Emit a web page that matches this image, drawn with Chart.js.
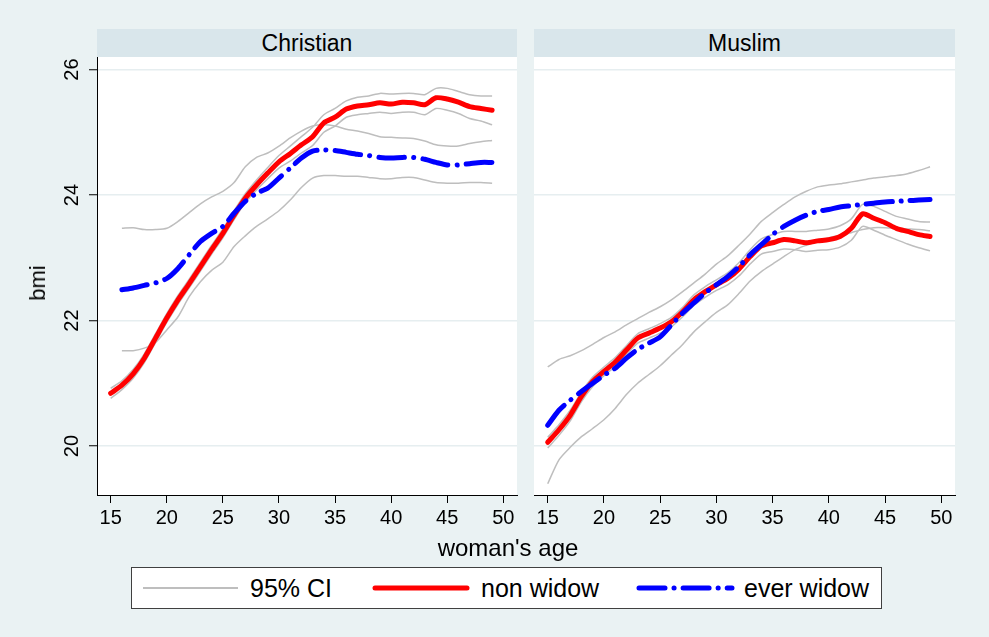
<!DOCTYPE html>
<html>
<head>
<meta charset="utf-8">
<title>bmi by woman's age</title>
<script src="https://cdn.jsdelivr.net/npm/chart.js"></script>
<style>
  body { margin: 0; background: #eaf2f3; font-family: "Liberation Sans", Arial, sans-serif; color: #000; }
  #page { position: relative; width: 989px; height: 637px; overflow: hidden; }
  .strip { position: absolute; top: 29px; height: 28px; line-height: 28px; background: #d9e6eb; text-align: center; font-size: 23px; }
  canvas { position: absolute; top: 57px; }
  .title { position: absolute; white-space: nowrap; transform: translate(-50%, -50%); }
  #legend { position: absolute; left: 131px; top: 567px; width: 749px; height: 40px; background: #fff; border: 1px solid #404040; }
  #legend svg { position: absolute; left: 0; top: 0; }
  #legend span { position: absolute; top: 6px; font-size: 25px; line-height: 28px; }
</style>
</head>
<body>
<div id="page">
  <div class="strip" style="left:97px;width:420px;" id="head0"></div>
  <div class="strip" style="left:534px;width:421px;" id="head1"></div>
  <canvas id="chart0" width="520" height="480" style="left:0px;"></canvas>
  <canvas id="chart1" width="440" height="480" style="left:520px;"></canvas>
  <div class="title" style="left:38px;top:283px;font-size:22px;transform:translate(-50%,-50%) rotate(-90deg);">bmi</div>
  <div class="title" style="left:508px;top:548px;font-size:24px;">woman's age</div>
  <div id="legend">
    <svg width="749" height="40">
      <line x1="11" y1="20" x2="106" y2="20" stroke="#bebebe" stroke-width="2"/>
      <line x1="243" y1="20" x2="335" y2="20" stroke="#ff0000" stroke-width="5" stroke-linecap="round"/>
      <line x1="507" y1="20" x2="600" y2="20" stroke="#0000ff" stroke-width="5" stroke-linecap="round" stroke-dasharray="26 9 0.1 9"/>
    </svg>
    <span style="left:118px;" id="lg0"></span>
    <span style="left:349px;" id="lg1"></span>
    <span style="left:612px;" id="lg2"></span>
  </div>
</div>

<script>
  // data, one value per year of age
  const ages = [15,16,17,18,19,20,21,22,23,24,25,26,27,28,29,30,31,32,33,34,35,36,37,38,39,40,41,42,43,44,45,46,47,48,49];
  const xTicks = [15, 20, 25, 30, 35, 40, 45, 50];
  const yTicks = [20, 22, 24, 26];
  const panelNames = ['Christian', 'Muslim'];
  const legendLabels = ['95% CI', 'non widow', 'ever widow'];

  // Christian
  const nonWidowC = [20.84,20.97,21.15,21.40,21.72,22.04,22.33,22.59,22.86,23.13,23.39,23.68,23.95,24.16,24.35,24.53,24.66,24.80,24.93,25.15,25.24,25.37,25.42,25.44,25.47,25.45,25.48,25.47,25.44,25.55,25.53,25.48,25.41,25.38,25.35];
  const nonWidowCHi = [20.92,21.04,21.22,21.47,21.79,22.11,22.40,22.66,22.93,23.20,23.46,23.75,24.02,24.24,24.44,24.63,24.78,24.93,25.08,25.28,25.38,25.50,25.56,25.58,25.62,25.61,25.62,25.62,25.60,25.70,25.70,25.65,25.60,25.58,25.58];
  const nonWidowCLo = [20.76,20.90,21.08,21.33,21.65,21.97,22.26,22.52,22.79,23.06,23.32,23.61,23.88,24.08,24.26,24.43,24.54,24.67,24.79,25.00,25.10,25.24,25.28,25.30,25.32,25.30,25.32,25.32,25.28,25.38,25.35,25.30,25.22,25.18,25.12];
  const everWidowC = [null,22.49,22.52,22.56,22.60,22.67,22.83,23.05,23.26,23.39,23.50,23.71,23.90,24.03,24.11,24.27,24.43,24.59,24.70,24.72,24.71,24.68,24.65,24.63,24.60,24.59,24.60,24.60,24.57,24.52,24.48,24.48,24.50,24.52,24.52];
  const everWidowCHi = [null,23.47,23.48,23.45,23.45,23.47,23.58,23.72,23.86,23.97,24.06,24.20,24.45,24.60,24.67,24.78,24.91,25.02,25.10,25.12,25.10,25.05,25.02,24.98,24.93,24.92,24.91,24.90,24.86,24.80,24.78,24.78,24.82,24.85,24.87];
  const everWidowCLo = [null,21.52,21.52,21.56,21.65,21.85,22.06,22.38,22.62,22.80,22.93,23.18,23.35,23.50,23.62,23.75,23.92,24.12,24.27,24.31,24.31,24.30,24.30,24.28,24.26,24.26,24.28,24.28,24.24,24.20,24.19,24.19,24.20,24.20,24.19];

  // Muslim
  const nonWidowM = [20.06,20.26,20.49,20.79,21.03,21.19,21.34,21.53,21.72,21.80,21.88,21.98,22.14,22.33,22.46,22.57,22.67,22.82,23.02,23.19,23.24,23.29,23.27,23.24,23.27,23.29,23.34,23.47,23.70,23.63,23.56,23.47,23.42,23.37,23.34];
  const nonWidowMHi = [20.14,20.34,20.57,20.86,21.10,21.26,21.41,21.60,21.79,21.87,21.95,22.05,22.21,22.41,22.54,22.65,22.76,22.92,23.13,23.30,23.37,23.42,23.42,23.42,23.44,23.46,23.51,23.62,23.85,23.82,23.74,23.66,23.62,23.58,23.57];
  const nonWidowMLo = [19.97,20.17,20.40,20.71,20.95,21.12,21.27,21.46,21.64,21.72,21.80,21.90,22.06,22.24,22.37,22.48,22.57,22.71,22.90,23.06,23.10,23.14,23.13,23.10,23.12,23.13,23.17,23.28,23.50,23.44,23.36,23.29,23.22,23.16,23.11];
  const everWidowM = [20.33,20.57,20.73,20.87,21.00,21.13,21.24,21.40,21.54,21.64,21.74,21.93,22.12,22.28,22.44,22.57,22.70,22.86,23.05,23.21,23.37,23.50,23.60,23.68,23.74,23.77,23.81,23.83,23.85,23.87,23.89,23.90,23.91,23.92,23.93];
  const everWidowMHi = [21.26,21.38,21.44,21.52,21.62,21.73,21.82,21.93,22.03,22.13,22.22,22.33,22.46,22.60,22.74,22.90,23.03,23.20,23.38,23.58,23.72,23.85,23.97,24.06,24.13,24.16,24.18,24.21,24.24,24.27,24.29,24.31,24.34,24.39,24.45];
  const everWidowMLo = [19.40,19.78,19.98,20.15,20.28,20.42,20.60,20.82,21.00,21.14,21.28,21.45,21.62,21.82,21.98,22.13,22.25,22.43,22.63,22.78,22.90,23.02,23.13,23.20,23.26,23.32,23.36,23.40,23.45,23.48,23.48,23.47,23.46,23.45,23.43];

  const panels = [
    { non: nonWidowC, nonHi: nonWidowCHi, nonLo: nonWidowCLo, ever: everWidowC, everHi: everWidowCHi, everLo: everWidowCLo },
    { non: nonWidowM, nonHi: nonWidowMHi, nonLo: nonWidowMLo, ever: everWidowM, everHi: everWidowMHi, everLo: everWidowMLo }
  ];

  const FONT = '"Liberation Sans", Arial, sans-serif';

  function pts(vals) {
    return ages.map((a, i) => ({ x: a, y: vals[i] }));
  }

  // white plot region
  const plotBg = {
    id: 'plotBg',
    beforeDraw(chart) {
      const a = chart.chartArea;
      chart.ctx.save();
      chart.ctx.fillStyle = '#fff';
      chart.ctx.fillRect(a.left, a.top, a.right - a.left, a.bottom - a.top);
      chart.ctx.restore();
    }
  };

  // stata style vertical y labels
  const yLabels = {
    id: 'yLabels',
    afterDraw(chart, args, opts) {
      if (!opts.show) return;
      const s = chart.scales.y;
      const ctx = chart.ctx;
      ctx.save();
      ctx.font = '20px ' + FONT;
      ctx.fillStyle = '#000';
      ctx.textAlign = 'center';
      ctx.textBaseline = 'middle';
      s.ticks.forEach(t => {
        ctx.save();
        ctx.translate(s.right - 25, s.getPixelForValue(t.value));
        ctx.rotate(-Math.PI / 2);
        ctx.fillText(String(t.value), 0, 0);
        ctx.restore();
      });
      ctx.restore();
    }
  };

  function makeChart(idx) {
    const p = panels[idx];
    const left = idx === 0;
    const gray = { borderColor: '#bebebe', borderWidth: 1.5, order: 2 };
    new Chart(document.getElementById('chart' + idx), {
      type: 'line',
      data: {
        datasets: [
          { label: legendLabels[2], data: pts(p.ever), borderColor: '#0000ff', borderWidth: 5, borderDash: [26, 9, 0.1, 9], borderCapStyle: 'round', order: 0 },
          { label: legendLabels[1], data: pts(p.non), borderColor: '#ff0000', borderWidth: 5, borderCapStyle: 'round', order: 1 },
          Object.assign({ label: legendLabels[0], data: pts(p.nonHi) }, gray),
          Object.assign({ label: legendLabels[0], data: pts(p.nonLo) }, gray),
          Object.assign({ label: legendLabels[0], data: pts(p.everHi) }, gray),
          Object.assign({ label: legendLabels[0], data: pts(p.everLo) }, gray)
        ]
      },
      options: {
        responsive: false,
        animation: false,
        devicePixelRatio: 1,
        layout: { padding: { left: 0, right: left ? 3 : 5, top: 0, bottom: 0 } },
        elements: {
          point: { radius: 0 },
          line: { tension: 0.25, borderJoinStyle: 'round', fill: false }
        },
        scales: {
          x: {
            type: 'linear',
            min: 13.78,
            max: 51.22,
            afterBuildTicks: s => { s.ticks = xTicks.map(v => ({ value: v })); },
            afterFit: s => { s.height = 42; },
            grid: { drawOnChartArea: false, drawTicks: true, tickLength: 8, tickColor: '#000', tickWidth: 1 },
            border: { display: true, color: '#000', width: 1 },
            ticks: { color: '#000', font: { family: FONT, size: 20 }, padding: 3, maxRotation: 0, autoSkip: false }
          },
          y: {
            type: 'linear',
            min: 19.22,
            max: 26.2,
            afterBuildTicks: s => { s.ticks = yTicks.map(v => ({ value: v })); },
            afterFit: s => { s.width = left ? 97 : 14; },
            grid: { color: '#e6eef0', lineWidth: 1.5, drawTicks: left, tickLength: 8, tickColor: '#000', tickWidth: 1 },
            border: { display: left, color: '#000', width: 1 },
            ticks: { display: false }
          }
        },
        plugins: {
          legend: { display: false },
          tooltip: { enabled: false },
          yLabels: { show: left }
        }
      },
      plugins: [plotBg, yLabels]
    });
  }

  panelNames.forEach((n, i) => { document.getElementById('head' + i).textContent = n; });
  legendLabels.forEach((n, i) => { document.getElementById('lg' + i).textContent = n; });
  makeChart(0);
  makeChart(1);
</script>
</body>
</html>
